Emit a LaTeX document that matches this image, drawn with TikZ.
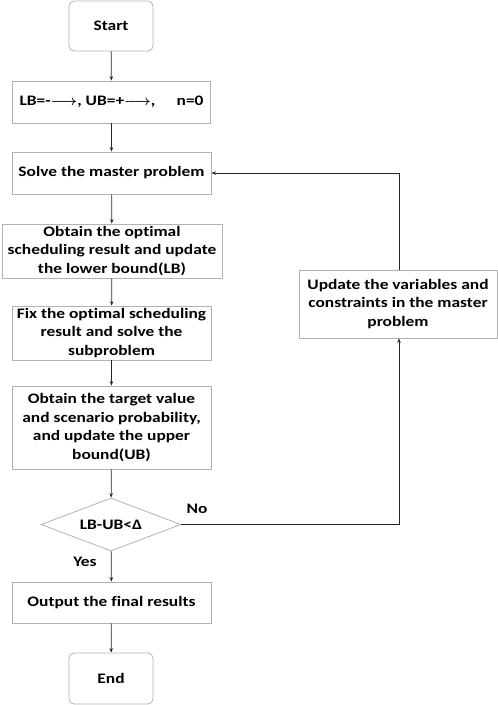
\documentclass[tikz,border=0pt]{standalone}
\usepackage{amsmath}
\usepackage{fontspec}
\setmainfont{Carlito}[FakeStretch=1.2,Ligatures=NoCommon]
\usetikzlibrary{arrows.meta,shapes.geometric}
\tikzset{
  x=1pt,y=-1pt,
  txt/.style={font=\fontsize{14.5}{18.5}\selectfont\bfseries, align=center, text=black},
  procbox/.style={txt, draw=black!30, line width=0.8pt, inner sep=0pt, rectangle},
  termbox/.style={procbox, rounded corners=5pt},
  decbox/.style={txt, draw=black!30, line width=0.8pt, diamond, inner sep=0pt, aspect=2.64},
  arr/.style={draw=black!85, line width=0.7pt, -{Stealth[length=4.5pt,width=3.5pt]}},
  lbl/.style={txt}
}
\begin{document}
\begin{tikzpicture}
\useasboundingbox (0,0) rectangle (498,705);
\node[termbox, minimum width=84pt, minimum height=50pt] (start) at (111,26) {Start};
\node[procbox, minimum width=198pt, minimum height=42pt] (init) at (111.5,102) {LB=-$\boldsymbol{\longrightarrow}$, UB=+$\boldsymbol{\longrightarrow}$,\hspace{1.2em} n=0};
\node[procbox, minimum width=199pt, minimum height=42pt] (solve) at (111.5,173) {Solve the master problem};
\node[procbox, minimum width=220pt, minimum height=54pt] (lb) at (112,251) {Obtain the optimal\\scheduling result and update\\the lower bound(LB)};
\node[procbox, minimum width=199pt, minimum height=54pt] (fix) at (111.5,333) {Fix the optimal scheduling\\result and solve the\\subproblem};
\node[procbox, minimum width=199pt, minimum height=83pt] (ub) at (111.5,427.5) {Obtain the target value\\and scenario probability,\\and update the upper\\bound(UB)};
\node[decbox, minimum width=140pt, minimum height=53pt] (dec) at (111,524.5) {LB-UB<Δ};
\node[procbox, minimum width=199pt, minimum height=41pt] (out) at (111.5,602.5) {Output the final results};
\node[termbox, minimum width=84pt, minimum height=51pt] (end) at (111,678.5) {End};
\node[procbox, minimum width=198pt, minimum height=68pt] (upd) at (398,304) {Update the variables and\\constraints in the master\\problem};
\node[lbl] (no) at (197,509) {No};
\node[lbl] (yes) at (85,562) {Yes};
\coordinate (c1) at (399,524.5);
\coordinate (c2) at (399,173);
\draw[arr] (start) -- (init);
\draw[arr] (init) -- (solve);
\draw[arr] (solve) -- (lb);
\draw[arr] (lb) -- (fix);
\draw[arr] (fix) -- (ub);
\draw[arr] (ub) -- (dec);
\draw[arr] (dec) -- (out);
\draw[arr] (out) -- (end);
\draw[arr] (dec.east) -- (c1) -- (upd.south -| c1);
\draw[arr] (upd.north -| c2) -- (c2) -- (solve.east);
\end{tikzpicture}
\end{document}
